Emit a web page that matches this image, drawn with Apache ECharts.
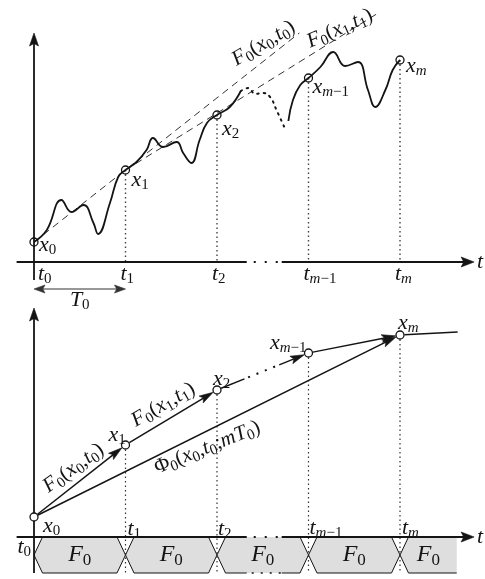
<!DOCTYPE html>
<html>
<head>
<meta charset="utf-8">
<title>Sampled trajectory and discrete flow</title>
<script src="https://cdn.jsdelivr.net/npm/echarts@6/dist/echarts.min.js"></script>
<style>
html,body{margin:0;padding:0;background:#fff;}
#chart{width:485px;height:579px;}
</style>
</head>
<body>
<div id="chart"></div>
<script>
// ================= DATA =================
// sampling instants (in units of T0) and sampled states
const tickLabels  = ['t_0', 't_1', 't_2', 't_{m−1}', 't_m'];
const stateLabels = ['x_0', 'x_1', 'x_2', 'x_{m−1}', 'x_m'];
const sampleT = [0, 1, 2, 3, 4];
const stateX  = [20, 92, 147, 184, 202];

// top panel: true trajectory, first stretch
const trajT1 = [0, 0.14, 0.30, 0.41, 0.54, 0.65, 0.70, 0.83, 0.92, 1, 1.12, 1.23, 1.30, 1.41, 1.56, 1.63, 1.72, 1.81, 1.89, 2, 2.14, 2.26];
const trajX1 = [20, 32, 62, 50, 57, 39, 28, 59, 85, 92, 100, 112, 124, 115, 120, 109, 99, 122, 139, 147, 155, 171];
// omitted stretch (drawn dotted)
const gapT = [2.26, 2.34, 2.42, 2.50, 2.58, 2.65, 2.74];
const gapX = [171, 174, 168, 169, 165, 152, 134];
// last stretch
const trajT2 = [2.78, 2.83, 2.91, 3, 3.13, 3.27, 3.40, 3.54, 3.65, 3.73, 3.84, 3.92, 4];
const trajX2 = [141, 162, 177, 184, 195, 210, 196, 200, 172, 155, 172, 192, 202];

// first-order predictions F0(x_k,t_k): start sample index, end point
const predFromIdx = [0, 1];
const predEndT = [2.90, 3.78];
const predEndX = [229, 250];
const predLabels = ['F_0(x_0,t_0)', 'F_0(x_1,t_1)'];

// bottom panel: one-step maps and the m-step flow
const stepArrows = [[0, 1], [1, 2], [2, 3], [3, 4]];
const stepLabels = ['F_0(x_0,t_0)', 'F_0(x_1,t_1)'];
const flowLabel = 'Φ_0(x_0,t_0;mT_0)';
const contT = [4, 4.63];
const contX = [202, 205];

// axes, period and the F0 band
const axisT = [-0.19, 4.81];
const axisBreakT = [2.325, 2.707];
const stateAxisTop = [-18, 229];
const stateAxisBottom = [-36, 229];
const periodSpan = [0, 1];
const periodLevel = -27;
const periodLabel = 'T_0';
const bandStart = [0, 1, 2, 3, 4];
const bandEnd   = [1, 2, 3, 4, 4.62];
const bandDepth = -36;
const bandLabel = 'F_0';
const timeName = 't';

// ================= STYLE =================
const INK = '#141414';
const FONT = '"Liberation Serif", "DejaVu Serif", serif';
const FS = 22;
const FS_ROT = 21;
const AX_W = 1.8;
const BAND_FILL = '#dedede';
const TOP_TICK_DX = [4, -5, -5, -5, -5];
const TOP_STATE_OFF = [[5, 3], [6, 10], [5, 14], [4, 9], [6, 6]];
const BOT_TICK_OFF = [[-3, 10, 'right'], [2, -8, 'left'], [1, -8, 'left'], [1, -9, 'left'], [2, -9, 'left']];
const BOT_STATE_OFF = [[9, 9, 'left'], [-17, -10, 'left'], [-4, -11, 'left'], [-2, -10, 'right'], [-2, -12, 'left']];
const PRED_LABEL = [{f: 0.898, d: 14, rot: 31}, {f: 0.857, d: 7, rot: 24}];
const STEP_LABEL = [{f: 0.526, d: 14, rot: 36}, {f: 0.497, d: 15, rot: 30}];
const FLOW_LABEL = {f: 0.455, d: -15, rot: 22};
const STEP_BREAK = [0.30, 0.68];
const R = 4.5;

// ================= helpers =================
function toRich(s) {
  const parts = [];
  const add = (txt, sub) => {
    for (const ch of txt) {
      const key = (/[A-Za-z]/.test(ch) ? 'i' : 'r') + (sub ? 's' : '');
      const last = parts[parts.length - 1];
      if (last && last.k === key) last.t += ch; else parts.push({k: key, t: ch});
    }
  };
  let i = 0;
  while (i < s.length) {
    if (s[i] === '_') {
      if (s[i + 1] === '{') { const j = s.indexOf('}', i); add(s.slice(i + 2, j), true); i = j + 1; }
      else { add(s[i + 1], true); i += 2; }
    } else { add(s[i], false); i++; }
  }
  return parts.map(p => '{' + p.k + '|' + p.t + '}').join('');
}
function richSet(fs) {
  const ss = Math.round(fs * 0.7);
  const b = {fontFamily: FONT, color: INK};
  return {
    i:  Object.assign({}, b, {fontStyle: 'italic', fontSize: fs, lineHeight: fs + 4}),
    r:  Object.assign({}, b, {fontSize: fs, lineHeight: fs + 4}),
    is: Object.assign({}, b, {fontStyle: 'italic', fontSize: ss, lineHeight: ss, verticalAlign: 'bottom'}),
    rs: Object.assign({}, b, {fontSize: ss, lineHeight: ss, verticalAlign: 'bottom'})
  };
}
function txt(s, x, y, fs, align, rotDeg) {
  return {type: 'text', x: x, y: y, rotation: (rotDeg || 0) * Math.PI / 180,
    style: {text: toRich(s), rich: richSet(fs), align: align || 'left', verticalAlign: 'middle',
      fill: INK, font: fs + 'px ' + FONT}};
}
function seg(p, q, st) {
  return {type: 'line', shape: {x1: p[0], y1: p[1], x2: q[0], y2: q[1]},
    style: Object.assign({stroke: INK, lineWidth: 1.4, fill: null}, st || {})};
}
function head(tip, ux, uy, len, half, c) {
  const bx = tip[0] - ux * len, by = tip[1] - uy * len, nx = -uy, ny = ux;
  const notch = [tip[0] - ux * len * 0.8, tip[1] - uy * len * 0.8];
  return {type: 'polygon', shape: {points: [tip, [bx + nx * half, by + ny * half], notch, [bx - nx * half, by - ny * half]]},
    style: {fill: c, stroke: c, lineWidth: 0.6}};
}
function arrow(a, b, o) {
  const dx = b[0] - a[0], dy = b[1] - a[1], L = Math.hypot(dx, dy), ux = dx / L, uy = dy / L;
  const t0 = o.trim0 || 0, t1 = o.trim1 || 0, c = o.color || INK;
  const s = [a[0] + ux * t0, a[1] + uy * t0], e = [b[0] - ux * t1, b[1] - uy * t1];
  const k = o.head * 0.7;
  const s2 = o.startHead ? [s[0] + ux * k, s[1] + uy * k] : s;
  const e2 = o.endHead === false ? e : [e[0] - ux * k, e[1] - uy * k];
  const out = [seg(s2, e2, {stroke: c, lineWidth: o.width || 1.4, lineDash: o.dash || null})];
  if (o.endHead !== false) out.push(head(e, ux, uy, o.head, o.half, c));
  if (o.startHead) out.push(head(s, -ux, -uy, o.head, o.half, c));
  return out;
}
function lerp(a, b, f) { return [a[0] + (b[0] - a[0]) * f, a[1] + (b[1] - a[1]) * f]; }
function alongLabel(a, b, spec, s, fs) {
  const dx = b[0] - a[0], dy = b[1] - a[1], L = Math.hypot(dx, dy), ux = dx / L, uy = dy / L;
  const p = lerp(a, b, spec.f);
  return txt(s, p[0] + uy * spec.d, p[1] - ux * spec.d, fs, 'center', spec.rot);
}
function timeAxis(P, stateAxis) {
  const ch = [];
  ch.push(seg(P(axisT[0], 0), P(axisBreakT[0], 0), {lineWidth: AX_W}));
  ch.push(seg(P(axisBreakT[0], 0), P(axisBreakT[1], 0), {lineWidth: 2, lineDash: [2, 9], lineDashOffset: -7}));
  ch.push.apply(ch, arrow(P(axisBreakT[1], 0), P(axisT[1], 0), {head: 13, half: 5, width: AX_W}));
  ch.push.apply(ch, arrow(P(0, stateAxis[0]), P(0, stateAxis[1]), {head: 13, half: 4.5, width: AX_W}));
  return ch;
}

// ================= chart =================
const chart = echarts.init(document.getElementById('chart'), null, {renderer: 'canvas'});
const lineBase = {type: 'line', xAxisIndex: 0, yAxisIndex: 0, symbol: 'none', showSymbol: false, silent: true, z: 3};

const series = [];
// ---------- top panel ----------
series.push({
  type: 'custom', name: 'top axes', xAxisIndex: 0, yAxisIndex: 0, z: 3, silent: true, data: [[0, 0]],
  renderItem: (params, api) => {
    const P = (t, x) => api.coord([t, x]);
    const ch = timeAxis(P, stateAxisTop);
    ch.push.apply(ch, arrow(P(periodSpan[0], periodLevel), P(periodSpan[1], periodLevel),
      {head: 11, half: 4, width: 1.1, color: '#333', startHead: true}));
    return {type: 'group', children: ch};
  }
});
series.push(Object.assign({}, lineBase, {name: 'trajectory', smooth: 0.45,
  data: trajT1.map((t, i) => [t, trajX1[i]]), lineStyle: {color: INK, width: 1.8}}));
series.push(Object.assign({}, lineBase, {name: 'omitted', smooth: 0.45,
  data: gapT.map((t, i) => [t, gapX[i]]), lineStyle: {color: INK, width: 2, type: [1.5, 5], cap: 'round'}}));
series.push(Object.assign({}, lineBase, {name: 'trajectory end', smooth: 0.45,
  data: trajT2.map((t, i) => [t, trajX2[i]]), lineStyle: {color: INK, width: 1.8}}));
predFromIdx.forEach((k, j) => {
  series.push(Object.assign({}, lineBase, {name: predLabels[j], z: 2,
    data: [[sampleT[k], stateX[k]], [predEndT[j], predEndX[j]]],
    lineStyle: {color: '#333', width: 1, type: [7, 5]}}));
});
series.push({
  type: 'custom', name: 'top guides', xAxisIndex: 0, yAxisIndex: 0, z: 2, silent: true,
  data: sampleT.slice(1).map((t, i) => [t, stateX[i + 1]]),
  renderItem: (params, api) => seg(api.coord([api.value(0), api.value(1)]), api.coord([api.value(0), 0]),
    {stroke: '#444', lineWidth: 1.4, lineDash: [1.5, 3]})
});
series.push({
  type: 'scatter', name: 'samples top', xAxisIndex: 0, yAxisIndex: 0, z: 4, silent: true,
  data: sampleT.map((t, i) => [t, stateX[i]]), symbol: 'circle', symbolSize: 8,
  itemStyle: {color: 'rgba(255,255,255,0)', borderColor: INK, borderWidth: 1.3, opacity: 1}
});
series.push({
  type: 'custom', name: 'top labels', xAxisIndex: 0, yAxisIndex: 0, z: 5, silent: true, data: [[0, 0]],
  renderItem: (params, api) => {
    const P = (t, x) => api.coord([t, x]);
    const ch = [];
    sampleT.forEach((t, i) => {
      const p = P(t, 0);
      ch.push(txt(tickLabels[i], p[0] + TOP_TICK_DX[i], p[1] + 12, FS, 'left'));
      const q = P(t, stateX[i]);
      ch.push(txt(stateLabels[i], q[0] + TOP_STATE_OFF[i][0], q[1] + TOP_STATE_OFF[i][1], FS, 'left'));
    });
    const e = P(axisT[1], 0);
    ch.push(txt(timeName, e[0] + 3, e[1], FS, 'left'));
    const m = P((periodSpan[0] + periodSpan[1]) / 2, periodLevel);
    ch.push(txt(periodLabel, m[0], m[1] + 11, FS, 'center'));
    predFromIdx.forEach((k, j) => {
      ch.push(alongLabel(P(sampleT[k], stateX[k]), P(predEndT[j], predEndX[j]), PRED_LABEL[j], predLabels[j], FS_ROT));
    });
    return {type: 'group', children: ch};
  }
});

// ---------- bottom panel ----------
series.push({
  type: 'custom', name: 'F0 band', xAxisIndex: 1, yAxisIndex: 1, z: 1, silent: true,
  data: bandStart.map((s, i) => [s, bandEnd[i]]),
  renderItem: (params, api) => {
    const t0 = api.value(0), t1 = api.value(1);
    const last = params.dataIndex === bandStart.length - 1;
    const a = api.coord([t0, 0]), b = api.coord([t1, 0]);
    const yb = api.coord([t0, bandDepth])[1], yt = a[1], ym = (yt + yb) / 2, B = 8.5;
    const tl = [a[0] + B, yt], lv = [a[0], ym], bl = [a[0] + B, yb];
    const tr = last ? [b[0], yt] : [b[0] - B, yt], rv = [b[0], ym], br = last ? [b[0], yb] : [b[0] - B, yb];
    const poly = last ? [tl, tr, br, bl, lv] : [tl, tr, rv, br, bl, lv];
    const thin = {stroke: INK, lineWidth: 1, fill: null};
    const ch = [{type: 'polygon', shape: {points: poly}, style: {fill: BAND_FILL, stroke: null}}];
    ch.push({type: 'polyline', shape: {points: [tl, lv, bl]}, style: thin});
    if (!last) ch.push({type: 'polyline', shape: {points: [tr, rv, br]}, style: thin});
    if (t0 < axisBreakT[0] && t1 > axisBreakT[1]) {
      const g0 = api.coord([axisBreakT[0], bandDepth]), g1 = api.coord([axisBreakT[1], bandDepth]);
      ch.push(seg(bl, g0, thin));
      ch.push(seg(g0, g1, {stroke: INK, lineWidth: 1.3, lineDash: [2, 7], lineDashOffset: -5}));
      ch.push(seg(g1, br, thin));
    } else ch.push(seg(bl, br, thin));
    ch.push(txt(bandLabel, (a[0] + b[0]) / 2, ym, 24, 'center'));
    return {type: 'group', children: ch};
  }
});
series.push({
  type: 'custom', name: 'bottom axes', xAxisIndex: 1, yAxisIndex: 1, z: 3, silent: true, data: [[0, 0]],
  renderItem: (params, api) => ({type: 'group', children: timeAxis((t, x) => api.coord([t, x]), stateAxisBottom)})
});
series.push({
  type: 'custom', name: 'bottom guides', xAxisIndex: 1, yAxisIndex: 1, z: 2, silent: true,
  data: sampleT.slice(1).map((t, i) => [t, stateX[i + 1]]),
  renderItem: (params, api) => seg(api.coord([api.value(0), api.value(1)]), api.coord([api.value(0), bandDepth]),
    {stroke: '#333', lineWidth: 1.2, lineDash: [1.5, 3]})
});
series.push({
  type: 'custom', name: 'flows', xAxisIndex: 1, yAxisIndex: 1, z: 3, silent: true, data: [[0, 0]],
  renderItem: (params, api) => {
    const P = i => api.coord([sampleT[i], stateX[i]]);
    const ch = [];
    stepArrows.forEach(([i, j]) => {
      const a = P(i), b = P(j);
      if (sampleT[i] < axisBreakT[0] && sampleT[j] > axisBreakT[1]) {
        const dx = b[0] - a[0], dy = b[1] - a[1], L = Math.hypot(dx, dy);
        const sA = [a[0] + dx / L * R, a[1] + dy / L * R];
        const m0 = lerp(a, b, STEP_BREAK[0]), m1 = lerp(a, b, STEP_BREAK[1]);
        ch.push(seg(sA, m0, {lineWidth: 1.5}));
        ch.push(seg(m0, m1, {lineWidth: 2, lineDash: [2, 7], lineDashOffset: -4}));
        ch.push.apply(ch, arrow(m1, b, {trim1: R, head: 14, half: 4, width: 1.5}));
      } else {
        ch.push.apply(ch, arrow(a, b, {trim0: R, trim1: R, head: 14, half: 4, width: 1.5}));
      }
    });
    // m-step flow
    ch.push.apply(ch, arrow(P(0), P(sampleT.length - 1), {trim0: R, trim1: R, head: 14, half: 4, width: 1.5}));
    // continuation beyond tm
    ch.push.apply(ch, arrow(api.coord([contT[0], contX[0]]), api.coord([contT[1], contX[1]]),
      {trim0: R, endHead: false, head: 0, width: 1.5}));
    return {type: 'group', children: ch};
  }
});
series.push({
  type: 'scatter', name: 'samples bottom', xAxisIndex: 1, yAxisIndex: 1, z: 4, silent: true,
  data: sampleT.map((t, i) => [t, stateX[i]]), symbol: 'circle', symbolSize: 8,
  itemStyle: {color: '#fff', borderColor: INK, borderWidth: 1.3, opacity: 1}
});
series.push({
  type: 'custom', name: 'bottom labels', xAxisIndex: 1, yAxisIndex: 1, z: 5, silent: true, data: [[0, 0]],
  renderItem: (params, api) => {
    const P = (t, x) => api.coord([t, x]);
    const ch = [];
    sampleT.forEach((t, i) => {
      const p = P(t, 0);
      ch.push(txt(tickLabels[i], p[0] + BOT_TICK_OFF[i][0], p[1] + BOT_TICK_OFF[i][1], FS, BOT_TICK_OFF[i][2]));
      const q = P(t, stateX[i]);
      ch.push(txt(stateLabels[i], q[0] + BOT_STATE_OFF[i][0], q[1] + BOT_STATE_OFF[i][1], FS, BOT_STATE_OFF[i][2]));
    });
    const e = P(axisT[1], 0);
    ch.push(txt(timeName, e[0] + 3, e[1], FS, 'left'));
    stepLabels.forEach((s, k) => {
      const [i, j] = stepArrows[k];
      ch.push(alongLabel(P(sampleT[i], stateX[i]), P(sampleT[j], stateX[j]), STEP_LABEL[k], s, FS_ROT));
    });
    const last = sampleT.length - 1;
    ch.push(alongLabel(P(sampleT[0], stateX[0]), P(sampleT[last], stateX[last]), FLOW_LABEL, flowLabel, FS_ROT));
    return {type: 'group', children: ch};
  }
});

chart.setOption({
  animation: false,
  backgroundColor: '#fff',
  grid: [
    {left: 15.7, width: 466.65, top: 0, height: 312, containLabel: false, outerBoundsMode: 'none'},
    {left: 15.7, width: 466.65, top: 280, height: 299, containLabel: false, outerBoundsMode: 'none'}
  ],
  xAxis: [
    {type: 'value', gridIndex: 0, min: -0.2, max: 4.9, show: false},
    {type: 'value', gridIndex: 1, min: -0.2, max: 4.9, show: false}
  ],
  yAxis: [
    {type: 'value', gridIndex: 0, min: -50, max: 262, show: false},
    {type: 'value', gridIndex: 1, min: -42, max: 257, show: false}
  ],
  series: series
});
</script>
</body>
</html>
